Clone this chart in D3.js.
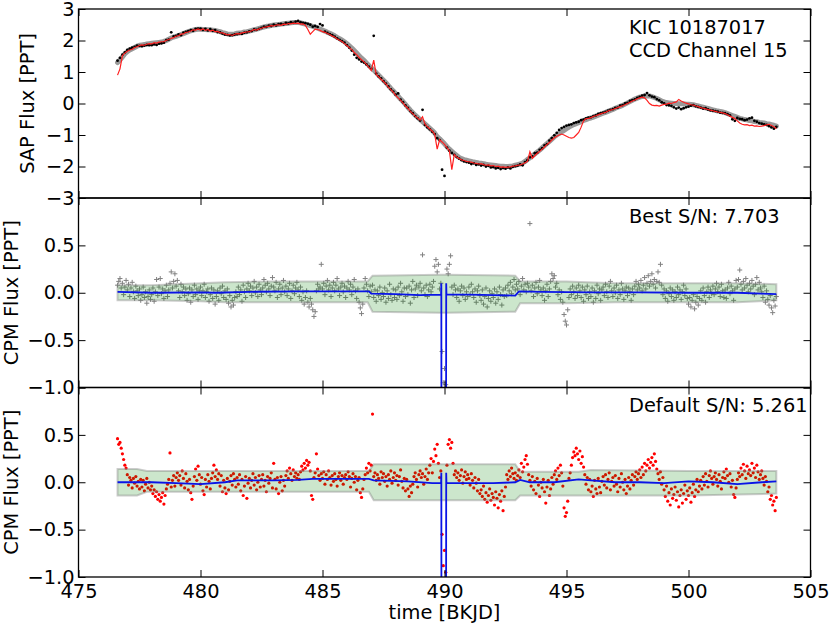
<!DOCTYPE html>
<html>
<head>
<meta charset="utf-8">
<script src="https://cdn.jsdelivr.net/npm/d3@7"></script>
<style>
body{margin:0;background:#fff}
</style>
</head>
<body>
<svg width="830" height="630"></svg>
<script>
// regular cadence of the two light curves
var sapStart = 476.6, sapStep = 0.1
var cpmStart = 476.6, cpmStep = 0.05

// top panel: smooth SAP curve (grey), SAP points (black), CPM fit (red)
var sapModel = [1.30,1.38,1.48,1.58,
1.65,1.70,1.74,1.78,1.82,1.85,1.86,1.87,1.89,1.90,
1.91,1.92,1.93,1.94,1.95,1.97,2.00,2.04,2.08,2.11,
2.13,2.16,2.19,2.22,2.25,2.28,2.31,2.33,2.35,2.36,
2.36,2.35,2.35,2.34,2.34,2.33,2.32,2.30,2.28,2.25,
2.23,2.21,2.20,2.20,2.21,2.23,2.24,2.25,2.27,2.28,
2.30,2.32,2.34,2.36,2.38,2.41,2.43,2.45,2.46,2.48,
2.49,2.50,2.51,2.52,2.53,2.54,2.55,2.56,2.57,2.57,
2.57,2.56,2.54,2.52,2.50,2.47,2.45,2.42,2.39,2.36,
2.33,2.30,2.26,2.23,2.19,2.15,2.10,2.06,2.01,1.96,
1.90,1.83,1.76,1.68,1.60,1.52,1.44,1.37,1.29,1.21,
1.13,1.06,0.98,0.90,0.82,0.74,0.66,0.57,0.48,0.40,
0.31,0.23,0.14,0.06,-0.03,-0.12,-0.21,-0.29,-0.37,-0.44,
-0.51,-0.58,-0.65,-0.72,-0.79,-0.86,-0.94,-1.05,-1.12,-1.20,
-1.28,-1.37,-1.45,-1.52,-1.59,-1.65,-1.71,-1.75,-1.78,-1.80,
-1.82,-1.84,-1.86,-1.87,-1.89,-1.90,-1.91,-1.93,-1.94,-1.95,
-1.96,-1.97,-1.98,-1.99,-1.99,-2.00,-2.00,-1.99,-1.98,-1.96,
-1.94,-1.92,-1.89,-1.84,-1.78,-1.72,-1.66,-1.60,-1.54,-1.48,
-1.41,-1.34,-1.27,-1.20,-1.13,-1.06,-1.00,-0.95,-0.90,-0.85,
-0.80,-0.75,-0.71,-0.67,-0.64,-0.61,-0.57,-0.54,-0.51,-0.48,
-0.46,-0.43,-0.40,-0.37,-0.34,-0.31,-0.28,-0.25,-0.22,-0.19,
-0.15,-0.12,-0.09,-0.06,-0.02,0.02,0.06,0.10,0.14,0.17,
0.20,0.22,0.23,0.24,0.24,0.22,0.19,0.16,0.12,0.08,
0.05,0.03,0.02,0.01,0.00,0.00,-0.01,-0.01,-0.01,-0.02,
-0.02,-0.03,-0.04,-0.06,-0.08,-0.10,-0.12,-0.14,-0.16,-0.18,
-0.20,-0.22,-0.24,-0.25,-0.27,-0.29,-0.32,-0.35,-0.38,-0.41,
-0.44,-0.47,-0.49,-0.51,-0.52,-0.54,-0.55,-0.57,-0.58,-0.60,
-0.61,-0.62,-0.64,-0.65,-0.67,-0.69,-0.72]

var sapFlux = [1.36,1.45,1.55,1.62,
1.70,1.74,1.77,1.80,1.84,1.83,1.82,1.84,1.86,1.85,
1.85,1.88,1.86,1.90,1.91,1.93,2.01,2.03,2.26,2.13,
2.15,2.19,2.17,2.25,2.27,2.30,2.33,2.31,2.37,2.38,
2.38,2.34,2.37,2.32,2.36,2.31,2.33,2.27,2.26,2.22,
2.19,2.18,2.16,2.17,2.19,2.20,2.22,2.21,2.25,2.26,
2.29,2.30,2.35,2.34,2.37,2.40,2.44,2.43,2.47,2.46,
2.50,2.48,2.52,2.53,2.51,2.56,2.54,2.58,2.56,2.60,
2.62,2.58,2.56,2.55,2.53,2.50,2.44,2.46,2.43,2.52,
2.48,2.28,2.24,2.20,2.17,2.12,2.07,2.02,1.98,1.93,
1.85,1.77,1.68,1.55,1.45,1.40,1.33,1.30,1.24,1.17,
1.10,2.15,0.95,0.86,0.80,0.71,0.63,0.54,0.45,0.38,
0.28,0.32,0.12,0.04,-0.06,-0.14,-0.24,-0.31,-0.40,-0.47,
-0.54,-0.20,-0.68,-0.76,-0.82,-0.90,-0.97,-1.10,-1.16,-2.10,
-2.30,-1.40,-1.50,-1.57,-1.63,-1.70,-1.75,-1.80,-1.84,-1.86,
-1.88,-1.92,-1.90,-1.95,-1.93,-1.97,-1.95,-2.00,-1.98,-2.03,
-2.02,-2.06,-2.04,-2.08,-2.05,-2.07,-2.03,-2.06,-2.01,-1.99,
-1.97,-1.93,-1.96,-1.86,-1.80,-1.71,-1.68,-1.58,-1.56,-1.47,
-1.42,-1.33,-1.29,-1.18,-1.10,-1.01,-0.93,-0.84,-0.78,-0.74,
-0.70,-0.68,-0.66,-0.62,-0.60,-0.58,-0.53,-0.51,-0.47,-0.45,
-0.44,-0.40,-0.38,-0.33,-0.31,-0.29,-0.27,-0.23,-0.20,-0.18,
-0.14,-0.13,-0.07,-0.05,0.00,0.02,0.08,0.11,0.13,0.18,
0.21,0.25,0.27,0.33,0.26,0.22,0.20,0.14,0.10,0.04,
0.00,-0.05,-0.06,-0.08,-0.12,-0.16,-0.13,-0.18,-0.15,-0.12,
-0.10,-0.07,-0.05,-0.09,-0.11,-0.13,-0.16,-0.15,-0.19,-0.22,
-0.23,-0.24,-0.26,-0.29,-0.30,-0.31,-0.34,-0.38,-0.50,-0.55,
-0.46,-0.49,-0.50,-0.53,-0.51,-0.47,-0.45,-0.55,-0.58,-0.62,
-0.64,-0.66,-0.68,-0.72,-0.76,-0.80,-0.74]

var sapFit = [0.90,1.10,1.52,1.60,
1.66,1.70,1.72,1.78,1.80,1.84,1.86,1.85,1.88,1.90,
1.89,1.93,1.92,1.95,1.96,1.96,2.01,2.03,2.07,2.09,
2.14,2.15,2.20,2.21,2.26,2.27,2.30,2.34,2.33,2.37,
2.33,2.37,2.32,2.35,2.30,2.33,2.28,2.29,2.25,2.24,
2.21,2.18,2.19,2.16,2.20,2.22,2.21,2.24,2.26,2.27,
2.28,2.31,2.35,2.33,2.37,2.39,2.42,2.43,2.45,2.47,
2.46,2.49,2.50,2.48,2.52,2.51,2.54,2.53,2.55,2.54,
2.55,2.52,2.53,2.48,2.35,2.20,2.28,2.36,2.35,2.32,
2.28,2.26,2.22,2.19,2.14,2.11,2.05,2.01,1.97,1.90,
1.84,1.77,1.71,1.62,1.55,1.46,1.39,1.32,1.24,1.15,
1.05,1.38,0.92,0.85,0.77,0.70,0.62,0.52,0.44,0.36,
0.26,0.18,0.10,0.02,-0.08,-0.15,-0.25,-0.32,-0.40,-0.46,
-0.53,-0.42,-0.66,-0.74,-0.81,-0.88,-0.98,-1.45,-1.15,-1.22,
-1.30,-1.40,-1.50,-2.10,-1.62,-1.70,-1.75,-1.79,-1.81,-1.84,
-1.85,-1.86,-1.89,-1.90,-1.92,-1.91,-1.94,-1.96,-1.95,-1.98,
-1.97,-2.00,-1.99,-2.02,-2.01,-2.03,-2.02,-2.01,-1.99,-1.98,
-1.96,-1.95,-1.92,-1.88,-1.84,-1.53,-1.74,-1.66,-1.58,-1.52,
-1.45,-1.38,-1.30,-1.24,-1.16,-1.09,-1.04,-1.00,-0.97,-1.00,
-1.04,-1.08,-1.10,-1.08,-1.00,-0.92,-0.75,-0.55,-0.48,-0.47,
-0.45,-0.41,-0.39,-0.36,-0.33,-0.30,-0.28,-0.24,-0.21,-0.19,
-0.16,-0.13,-0.10,-0.07,-0.04,0.00,0.04,0.08,0.11,0.15,
0.18,0.20,0.18,0.10,0.00,-0.05,-0.07,-0.06,-0.08,-0.05,
-0.03,-0.02,0.01,0.00,0.03,0.05,0.13,0.08,0.04,0.01,
-0.01,-0.04,-0.05,-0.08,-0.10,-0.13,-0.15,-0.17,-0.19,-0.21,
-0.23,-0.25,-0.27,-0.28,-0.30,-0.32,-0.36,-0.40,-0.44,-0.48,
-0.55,-0.62,-0.66,-0.68,-0.67,-0.70,-0.69,-0.72,-0.71,-0.73,
-0.72,-0.70,-0.68,-0.66,-0.70,-0.74,-0.80]

// middle panel: best CPM residuals (grey crosses)
var bestResid = [0.08,0.12,0.15,0.05,0.10,-0.02,0.06,0.13,
0.03,0.09,-0.04,0.05,0.11,0.01,-0.06,0.07,0.02,-0.03,
0.04,-0.08,-0.02,0.06,-0.05,0.01,-0.11,-0.04,0.03,-0.07,
-0.02,0.05,-0.09,0.01,0.14,-0.03,0.06,0.15,-0.01,0.04,
-0.06,0.02,0.08,-0.04,0.03,0.10,0.22,0.05,0.12,0.20,
0.07,0.13,0.02,-0.05,0.09,0.01,0.06,-0.03,0.04,-0.08,
-0.01,0.05,-0.10,0.03,-0.04,0.08,-0.02,0.04,-0.07,0.02,
0.06,-0.03,0.02,0.09,-0.05,0.01,0.04,-0.09,-0.02,0.05,
-0.06,0.03,-0.12,-0.04,0.02,-0.08,0.05,-0.01,0.07,-0.05,
0.02,-0.07,0.04,-0.11,-0.03,-0.15,-0.08,-0.13,-0.05,0.01,
-0.04,0.06,-0.02,0.03,-0.09,0.08,0.01,-0.05,0.04,0.10,
0.02,0.07,-0.03,0.05,0.12,0.00,0.06,-0.04,0.09,0.03,
-0.02,0.05,0.14,0.08,0.01,0.10,0.04,-0.03,0.07,0.16,
0.06,0.02,0.11,-0.05,0.04,0.09,-0.02,0.05,0.13,0.01,
0.07,-0.03,0.04,0.10,-0.06,0.02,0.08,-0.01,0.05,0.11,
0.03,-0.04,0.06,-0.08,0.01,-0.12,-0.05,0.02,-0.10,-0.15,
-0.06,-0.12,-0.18,-0.25,-0.20,0.02,0.09,0.04,0.06,0.30,
0.04,0.10,-0.02,0.07,0.13,0.03,0.08,-0.04,0.05,0.11,
0.02,0.08,0.15,0.04,-0.03,0.06,0.10,0.01,0.07,-0.05,
0.05,0.12,0.03,0.09,-0.02,0.06,0.14,0.02,-0.06,0.04,
-0.10,-0.16,-0.22,-0.12,0.05,0.15,0.09,0.02,-0.04,0.07,
0.01,0.08,-0.05,0.03,-0.09,0.02,-0.03,0.06,-0.07,0.00,
-0.04,0.05,-0.10,0.02,-0.06,0.09,-0.02,-0.08,0.04,-0.05,
0.03,-0.07,0.06,-0.03,0.10,0.01,-0.09,0.05,-0.04,0.05,
-0.02,0.07,-0.11,0.03,0.12,-0.05,0.04,0.08,-0.03,0.06,
0.10,0.02,0.40,0.05,-0.02,0.08,-0.04,0.03,0.09,0.01,
0.06,0.12,0.28,0.35,0.22,0.30,0.04,0.10,-0.62,-0.95,
-0.80,-0.97,0.25,0.20,0.30,0.39,0.06,-0.02,0.08,0.03,
-0.05,0.04,-0.09,0.02,0.07,-0.03,0.05,-0.07,0.01,-0.04,
0.06,-0.02,0.09,0.01,-0.05,0.04,-0.10,0.02,0.07,-0.03,
-0.08,0.03,-0.12,-0.04,0.05,-0.15,-0.06,0.02,-0.09,-0.01,
-0.05,0.04,-0.11,0.01,-0.07,0.06,-0.02,-0.13,0.03,-0.04,
0.05,-0.03,0.08,0.02,0.11,-0.01,0.06,0.14,0.03,0.09,
0.04,0.12,-0.02,0.07,0.15,0.03,0.09,0.01,0.10,0.06,
0.73,0.02,0.08,-0.04,0.05,0.11,-0.01,0.06,0.13,0.03,
-0.03,0.05,-0.08,0.02,0.09,-0.04,0.04,0.12,0.20,0.15,
0.18,0.06,0.10,-0.02,0.03,-0.07,0.01,-0.10,-0.23,-0.30,
-0.34,-0.18,-0.05,0.04,-0.02,0.07,0.01,-0.06,0.05,-0.03,
0.08,0.02,-0.05,0.06,-0.09,0.03,-0.02,0.07,-0.06,0.01,
-0.04,0.05,-0.10,0.02,-0.06,0.08,-0.01,0.04,-0.08,0.03,
0.06,-0.03,0.09,0.01,-0.05,0.07,0.12,0.02,-0.04,0.05,
0.00,0.08,-0.06,0.03,-0.02,0.10,0.04,-0.07,0.02,0.06,
-0.03,0.05,0.01,-0.08,0.04,-0.02,0.07,0.12,0.03,0.09,
0.05,0.13,0.02,0.08,0.16,0.04,0.10,0.18,0.07,0.12,
0.20,0.09,0.14,0.05,0.12,0.22,0.11,0.30,0.08,-0.02,
0.04,-0.06,0.02,-0.09,-0.01,0.05,-0.04,0.03,-0.08,0.01,
-0.05,0.06,-0.02,0.03,-0.07,0.01,0.08,-0.03,0.04,-0.06,
-0.12,-0.05,-0.15,-0.08,-0.02,-0.17,-0.10,-0.04,-0.13,-0.06,
0.02,-0.08,0.05,-0.03,-0.10,0.01,0.06,-0.05,0.03,-0.01,
0.07,-0.02,0.04,0.10,0.01,0.06,-0.04,0.09,0.02,-0.05,
0.03,-0.06,0.05,0.11,-0.01,0.07,0.02,-0.08,0.04,0.13,
0.06,0.14,0.24,0.09,0.03,0.12,0.05,0.15,0.08,0.01,
0.10,0.04,0.13,0.07,-0.02,0.09,0.16,0.03,0.11,0.05,
0.01,-0.05,0.07,-0.10,0.02,-0.07,-0.13,-0.03,-0.16,-0.21,
-0.08,-0.14,-0.04]

// bottom panel: default CPM residuals (red dots)
var defaultResid = [0.46,0.40,0.42,0.36,0.30,0.24,0.18,0.15,
0.08,-0.03,0.05,0.02,-0.06,0.04,-0.01,0.06,-0.04,0.01,
-0.07,0.03,-0.05,0.02,-0.09,-0.02,0.04,-0.06,0.00,-0.08,
-0.04,-0.12,-0.08,-0.15,-0.10,-0.18,-0.13,-0.20,-0.16,-0.11,
-0.23,-0.14,-0.07,-0.02,0.03,0.31,-0.05,0.02,0.07,-0.04,
0.05,0.10,0.02,0.07,-0.03,0.12,0.04,-0.06,0.09,0.01,
-0.08,0.03,-0.11,-0.18,-0.04,0.06,0.14,0.02,0.17,0.08,
-0.02,0.05,-0.09,-0.13,0.03,-0.05,0.08,0.01,-0.07,0.04,
0.10,0.18,0.06,0.13,0.03,0.09,-0.04,0.07,-0.10,0.02,
-0.06,-0.12,0.04,-0.08,0.01,0.07,-0.03,0.09,0.03,-0.05,
0.05,-0.02,0.08,-0.09,0.03,-0.14,-0.04,0.06,-0.17,-0.01,
0.04,-0.06,0.02,0.09,-0.03,0.05,-0.08,0.00,0.07,-0.05,
0.03,0.08,-0.04,0.02,-0.10,0.06,-0.01,0.04,0.10,-0.06,
0.20,0.03,-0.07,0.05,-0.12,0.00,0.06,-0.09,0.02,-0.04,
0.07,0.12,0.04,0.15,0.09,0.02,0.13,0.06,0.10,0.04,
0.08,0.03,0.11,0.17,0.13,0.20,0.15,0.23,0.18,0.21,
0.12,-0.14,-0.18,0.05,0.10,0.30,0.14,0.07,0.02,0.09,
0.04,0.11,-0.02,0.08,0.03,0.12,0.05,-0.03,0.07,0.01,
0.09,0.03,-0.04,0.06,0.10,0.02,0.07,-0.02,0.05,0.08,
0.03,0.11,0.06,-0.05,0.04,0.09,0.00,0.06,-0.08,0.02,
0.05,-0.11,-0.16,-0.07,0.03,0.08,0.15,0.10,0.20,0.12,
0.18,0.72,0.06,0.10,0.02,0.08,0.04,-0.02,0.11,0.05,
0.09,0.01,0.06,-0.04,0.08,0.03,0.12,-0.01,0.05,0.10,
0.02,0.07,-0.03,0.06,0.13,0.01,-0.06,0.04,-0.09,0.03,
-0.07,-0.15,-0.04,-0.11,-0.02,0.06,0.10,0.03,-0.05,0.08,
0.12,0.05,0.09,-0.02,0.06,0.14,0.03,0.10,0.18,0.25,
0.10,0.22,0.35,0.28,0.40,0.20,0.05,0.12,-0.55,-0.88,
-0.72,-0.95,0.18,0.40,0.45,0.36,0.42,0.20,0.08,0.12,
0.05,0.10,0.02,0.07,0.13,-0.01,0.06,0.11,0.03,0.08,
0.04,-0.03,0.09,0.02,-0.06,0.05,-0.01,-0.09,0.03,-0.12,
-0.08,-0.15,-0.04,-0.18,-0.11,-0.21,-0.14,-0.07,-0.19,-0.12,
-0.16,-0.24,-0.10,-0.17,-0.27,-0.13,-0.20,-0.09,-0.30,-0.15,
-0.05,0.08,0.03,0.12,0.06,0.15,0.09,0.04,0.10,0.02,
0.07,0.13,0.05,0.20,0.11,0.16,0.24,0.28,0.19,0.08,
0.02,-0.04,0.06,-0.08,0.01,-0.12,0.04,-0.03,-0.15,0.00,
-0.06,0.03,-0.10,-0.22,-0.05,0.02,-0.14,-0.07,0.05,-0.02,
0.08,0.12,0.03,0.15,0.07,0.18,0.10,-0.04,-0.27,-0.36,
-0.32,-0.20,0.04,0.10,0.18,0.26,0.32,0.28,0.36,0.30,
0.24,0.33,0.20,0.27,0.16,0.08,-0.02,0.05,-0.08,0.03,
-0.10,-0.04,-0.15,0.02,-0.07,-0.12,0.04,-0.05,-0.11,0.01,
0.06,-0.03,0.08,-0.06,0.03,0.10,-0.08,0.01,0.05,-0.04,
0.07,-0.02,-0.10,0.04,-0.05,0.09,0.00,-0.08,0.03,-0.12,
-0.04,0.05,-0.07,0.02,0.08,-0.03,0.06,0.11,0.03,0.09,
0.13,0.05,0.16,0.08,0.20,0.12,0.18,0.24,0.15,0.21,
0.26,0.18,0.30,0.22,0.14,0.09,0.03,0.11,-0.02,0.05,
-0.08,-0.15,-0.04,-0.20,-0.11,-0.24,-0.07,-0.17,-0.13,-0.05,
-0.19,-0.10,-0.26,-0.14,-0.08,-0.22,-0.12,-0.03,-0.18,-0.09,
-0.14,-0.06,-0.21,-0.11,-0.02,-0.15,-0.08,0.03,-0.10,-0.04,
0.02,-0.07,0.06,-0.03,0.09,0.01,-0.05,0.07,0.12,0.04,
-0.02,0.06,0.10,0.03,-0.04,0.08,0.01,-0.07,0.05,0.11,
0.04,0.14,0.07,0.00,0.09,-0.05,0.02,-0.13,-0.16,-0.06,
0.03,0.10,0.06,0.15,0.08,0.19,0.12,0.04,0.17,0.09,
0.13,0.07,0.20,0.10,0.15,0.05,0.18,0.11,0.03,0.08,
0.12,0.04,-0.03,0.06,0.01,-0.10,-0.05,-0.18,-0.14,-0.24,
-0.20,-0.30,-0.16]

// transit models (blue) and their uncertainty bands (green)
var bestModelT = [476.6,478.0,480.0,480.6,482.0,484.0,486.9,487.0,488.0,489.0,489.86,489.87,489.88,490.06,490.07,490.08,491.0,492.0,492.9,493.05,494.0,496.0,498.0,500.0,502.0,503.0,503.6]
var bestModelV = [0.01,0.0,0.005,0.0,0.01,0.015,0.015,-0.01,-0.015,-0.025,-0.02,0.10,-3,-3,0.10,-0.02,-0.02,-0.025,-0.03,0.015,0.01,0.005,0.005,0.0,0.0,-0.01,-0.015]
var defModelT = [476.6,478.0,479.0,480.0,481.0,481.5,483.0,484.0,484.6,486.9,487.1,488.5,489.5,489.86,489.87,489.88,490.06,490.07,490.08,491.0,492.0,492.9,493.1,493.5,494.5,495.5,496.0,497.0,498.0,499.0,500.0,501.0,502.0,503.0,503.6]
var defModelV = [0.0,0.0,-0.01,-0.02,0.0,0.02,0.02,0.025,0.035,0.035,0.02,0.01,-0.01,-0.01,0.10,-3,-3,0.10,-0.01,-0.01,-0.01,0.0,0.025,0.0,0.0,0.03,0.02,0.0,0.0,-0.01,0.01,0.0,-0.02,0.0,0.01]

var bestBandT = [476.6,478.0,480.0,481.0,483.0,486.85,487.05,489.8,490.1,492.9,493.1,495.0,497.0,500.0,502.0,503.6]
var bestBandLo = [-0.08,-0.08,-0.09,-0.10,-0.10,-0.10,-0.20,-0.21,-0.21,-0.20,-0.11,-0.11,-0.10,-0.10,-0.10,-0.08]
var bestBandHi = [0.08,0.08,0.10,0.11,0.12,0.12,0.18,0.19,0.19,0.18,0.12,0.12,0.10,0.10,0.10,0.09]
var defBandT = [476.6,477.4,477.8,480.0,484.0,486.9,487.1,490.0,492.9,493.1,495.5,496.0,500.0,503.6]
var defBandLo = [-0.14,-0.14,-0.10,-0.10,-0.10,-0.10,-0.19,-0.19,-0.19,-0.14,-0.14,-0.14,-0.14,-0.12]
var defBandHi = [0.14,0.14,0.12,0.12,0.12,0.12,0.19,0.19,0.19,0.11,0.11,0.13,0.12,0.12]

var xTicks = [475,480,485,490,495,500,505]
var sapTicks = [-3,-2,-1,0,1,2,3]
var cpmTicks = [-1,-0.5,0,0.5,1]

function main(){
    var left = 78.5, right = 810.5
    var panels = [{top: 9, bottom: 198}, {top: 198, bottom: 387.5}, {top: 387.5, bottom: 577}]
    var fontSize = 19.4
    var svg = d3.select('svg')

    var x = d3.scaleLinear().domain([475, 505]).range([left, right])
    var ySap = d3.scaleLinear().domain([-3, 3]).range([panels[0].bottom, panels[0].top])
    var yBest = d3.scaleLinear().domain([-1, 1]).range([panels[1].bottom, panels[1].top])
    var yDef = d3.scaleLinear().domain([-1, 1]).range([panels[2].bottom, panels[2].top])
    var yScales = [ySap, yBest, yDef]

    var sapT = sapModel.map((d,i) => +(sapStart + i*sapStep).toFixed(3))
    var cpmT = bestResid.map((d,i) => +(cpmStart + i*cpmStep).toFixed(3))

    var defs = svg.append('defs')
    panels.forEach((p,i) => {
        defs.append('clipPath').attr('id', 'clip'+i)
            .append('rect')
            .attr('x', left).attr('y', p.top)
            .attr('width', right-left).attr('height', p.bottom-p.top)
    })

    // ---- panel 1
    var g1 = svg.append('g').attr('clip-path', 'url(#clip0)')
    var sapLine = d3.line().x((d,i) => x(sapT[i])).y(d => ySap(d))
    g1.append('path').datum(sapModel)
        .attr('d', sapLine)
        .attr('fill', 'none').attr('stroke', '#9a9a9a')
        .attr('stroke-width', 5).attr('stroke-linejoin', 'round').attr('stroke-linecap', 'round')
    g1.selectAll('circle').data(sapFlux).join('circle')
        .attr('cx', (d,i) => x(sapT[i]))
        .attr('cy', d => ySap(d))
        .attr('r', 1.4).attr('fill', 'black')
    g1.append('path').datum(sapFit)
        .attr('d', sapLine)
        .attr('fill', 'none').attr('stroke', '#ff2020').attr('stroke-width', 1.2)

    // ---- panels 2 and 3
    function bandArea(ts, y, lo, hi){
        return d3.area().x((d,i) => x(ts[i])).y0((d,i) => y(lo[i])).y1((d,i) => y(hi[i]))
    }
    function modelLine(ts, y){
        return d3.line().x((d,i) => x(ts[i])).y(d => y(d))
    }

    var g2 = svg.append('g').attr('clip-path', 'url(#clip1)')
    g2.selectAll('path.cross').data(bestResid).join('path')
        .attr('class', 'cross')
        .attr('d', 'M-2.5,0H2.5M0,-2.5V2.5')
        .attr('transform', (d,i) => 'translate(' + x(cpmT[i]) + ',' + yBest(d) + ')')
        .attr('stroke', '#808080').attr('stroke-width', 1)
    g2.append('path').datum(bestBandT)
        .attr('d', bandArea(bestBandT, yBest, bestBandLo, bestBandHi))
        .attr('fill', 'rgba(0,128,0,0.2)')
        .attr('stroke', 'rgba(128,128,128,0.4)').attr('stroke-width', 2)
    g2.append('path').datum(bestModelV)
        .attr('d', modelLine(bestModelT, yBest))
        .attr('fill', 'none').attr('stroke', '#0a14e6').attr('stroke-width', 1.8)

    var g3 = svg.append('g').attr('clip-path', 'url(#clip2)')
    g3.selectAll('circle').data(defaultResid).join('circle')
        .attr('cx', (d,i) => x(cpmT[i]))
        .attr('cy', d => yDef(d))
        .attr('r', 1.6).attr('fill', 'red')
    g3.append('path').datum(defBandT)
        .attr('d', bandArea(defBandT, yDef, defBandLo, defBandHi))
        .attr('fill', 'rgba(0,128,0,0.2)')
        .attr('stroke', 'rgba(128,128,128,0.4)').attr('stroke-width', 2)
    g3.append('path').datum(defModelV)
        .attr('d', modelLine(defModelT, yDef))
        .attr('fill', 'none').attr('stroke', '#0a14e6').attr('stroke-width', 1.8)

    // ---- axes, inward ticks on all four sides
    var fmt1 = d3.format('d')
    var fmt2 = d3.format('.1f')
    panels.forEach((p,i) => {
        var y = yScales[i]
        var yt = i == 0 ? sapTicks : cpmTicks
        var yf = i == 0 ? fmt1 : (d => d == 1 ? '' : fmt2(d))

        var axes = [
            svg.append('g').attr('transform', 'translate(0,' + p.bottom + ')')
                .call(d3.axisBottom(x).tickValues(xTicks).tickSizeInner(-7).tickSizeOuter(0).tickPadding(7.5)
                    .tickFormat(i == 2 ? fmt1 : '')),
            svg.append('g').attr('transform', 'translate(0,' + p.top + ')')
                .call(d3.axisTop(x).tickValues(xTicks).tickSizeInner(-7).tickSizeOuter(0).tickFormat('')),
            svg.append('g').attr('transform', 'translate(' + left + ',0)')
                .call(d3.axisLeft(y).tickValues(yt).tickSizeInner(-7).tickSizeOuter(0).tickPadding(4).tickFormat(yf)),
            svg.append('g').attr('transform', 'translate(' + right + ',0)')
                .call(d3.axisRight(y).tickValues(yt).tickSizeInner(-7).tickSizeOuter(0).tickFormat(''))
        ]
        axes.forEach(a => {
            a.select('.domain').remove()
            a.attr('font-size', fontSize).attr('font-family', 'DejaVu Sans')
            a.selectAll('line').attr('stroke', 'black').attr('stroke-width', 1)
            a.selectAll('text').attr('fill', 'black')
        })

        svg.append('rect')
            .attr('x', left).attr('y', p.top)
            .attr('width', right-left).attr('height', p.bottom-p.top)
            .attr('fill', 'none').attr('stroke', 'black').attr('stroke-width', 1.3)
    })

    // ---- labels
    function label(txt, tx, ty, rot, anchor){
        svg.append('text')
            .attr('transform', 'translate(' + tx + ',' + ty + ')' + (rot ? ' rotate(' + rot + ')' : ''))
            .attr('text-anchor', anchor || 'start')
            .attr('font-family', 'DejaVu Sans').attr('font-size', fontSize)
            .attr('fill', 'black')
            .text(txt)
    }
    label('SAP Flux [PPT]', 34, (panels[0].top + panels[0].bottom)/2, -90, 'middle')
    label('CPM Flux [PPT]', 17.5, (panels[1].top + panels[1].bottom)/2, -90, 'middle')
    label('CPM Flux [PPT]', 17.5, (panels[2].top + panels[2].bottom)/2, -90, 'middle')
    label('time [BKJD]', (left + right)/2, 619, 0, 'middle')

    label('KIC 10187017', 629, 34)
    label('CCD Channel 15', 629, 56.5)
    label('Best S/N: 7.703', 629, 222.5)
    label('Default S/N: 5.261', 629, 412)
}
main()
</script>
</body>
</html>
